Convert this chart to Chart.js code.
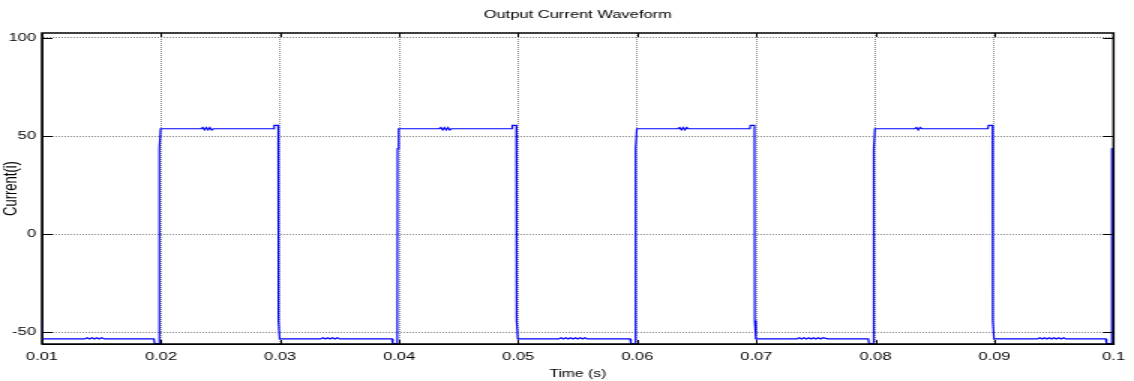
<!DOCTYPE html>
<html>
<head>
<meta charset="utf-8">
<script src="https://cdn.jsdelivr.net/npm/chart.js@4"></script>
<style>
  html, body { margin: 0; padding: 0; background: #ffffff; overflow: hidden; }
  #wrap { width: 756px; height: 381px; transform: scaleX(1.5); transform-origin: 0 0; }
</style>
</head>
<body>
<div id="wrap"><canvas id="c" width="756" height="381"></canvas></div>
<script>
// ---- data ----
const chartTitle = 'Output Current Waveform';
const xAxisLabel = 'Time (s)';
const yAxisLabel = 'Current(i)';

const xTickValues = [0.01, 0.02, 0.03, 0.04, 0.05, 0.06, 0.07, 0.08, 0.09, 0.1];
const xTickLabels = ['0.01', '0.02', '0.03', '0.04', '0.05', '0.06', '0.07', '0.08', '0.09', '0.1'];
const yTickValues = [-50, 0, 50, 100];
const yTickLabels = ['-50', '0', '50', '100'];

// time (s) of each sample
const timeS = [
  // low 0.01 - 0.02
  0.01000, 0.01003, 0.01360, 0.01380, 0.01400, 0.01420, 0.01440, 0.01460, 0.01480, 0.01500, 0.01525, 0.01940, 0.01946, 0.01984,
  // high 0.02 - 0.03
  0.01986, 0.01996, 0.02335, 0.02350, 0.02365, 0.02380, 0.02395, 0.02410, 0.02425, 0.02440, 0.02945, 0.02950, 0.02984, 0.02986, 0.02996,
  // low 0.03 - 0.04
  0.03340, 0.03360, 0.03380, 0.03400, 0.03420, 0.03440, 0.03460, 0.03480, 0.03500, 0.03540, 0.03940, 0.03946, 0.03984,
  // high 0.04 - 0.05
  0.03986, 0.03996, 0.04335, 0.04350, 0.04365, 0.04380, 0.04395, 0.04410, 0.04425, 0.04440, 0.04945, 0.04950, 0.04984, 0.04986, 0.04996,
  // low 0.05 - 0.06
  0.05340, 0.05360, 0.05380, 0.05400, 0.05420, 0.05440, 0.05460, 0.05480, 0.05500, 0.05520, 0.05540, 0.05560, 0.05580, 0.05940, 0.05946, 0.05984,
  // high 0.06 - 0.07
  0.05986, 0.05996, 0.06340, 0.06355, 0.06370, 0.06385, 0.06400, 0.06415, 0.06430, 0.06945, 0.06950, 0.06984, 0.06986, 0.06996,
  // low 0.07 - 0.08
  0.07340, 0.07360, 0.07380, 0.07400, 0.07420, 0.07440, 0.07460, 0.07480, 0.07500, 0.07520, 0.07540, 0.07560, 0.07600, 0.07940, 0.07946, 0.07984,
  // high 0.08 - 0.09
  0.07986, 0.07996, 0.08330, 0.08345, 0.08360, 0.08375, 0.08390, 0.08945, 0.08950, 0.08984, 0.08986, 0.08996,
  // low 0.09 - 0.1
  0.09360, 0.09380, 0.09400, 0.09420, 0.09440, 0.09460, 0.09480, 0.09500, 0.09520, 0.09540, 0.09560, 0.09580, 0.09600, 0.09620, 0.09935, 0.09941, 0.09984, 0.09986, 0.10000
];

// output current (A) at each sample
const currentA = [
  // low 0.01 - 0.02
  -44.0, -53.4, -53.4, -52.8, -53.4, -52.8, -53.4, -52.8, -53.4, -52.8, -53.4, -53.4, -55.8, -55.8,
  // high 0.02 - 0.03
  43.5, 53.7, 53.7, 54.3, 53.1, 54.3, 53.1, 54.3, 53.1, 53.7, 53.7, 55.4, 55.4, -44.0, -53.4,
  // low 0.03 - 0.04
  -53.4, -52.8, -53.4, -52.8, -53.4, -52.8, -53.4, -52.8, -53.4, -53.4, -53.4, -55.8, -55.8,
  // high 0.04 - 0.05
  43.5, 53.7, 53.7, 54.3, 53.1, 54.3, 53.1, 54.3, 53.1, 53.7, 53.7, 55.4, 55.4, -44.0, -53.4,
  // low 0.05 - 0.06
  -53.4, -52.8, -53.4, -52.8, -53.4, -52.8, -53.4, -52.8, -53.4, -52.8, -53.4, -52.8, -53.4, -53.4, -55.8, -55.8,
  // high 0.06 - 0.07
  43.5, 53.7, 53.7, 54.3, 53.1, 54.3, 53.1, 54.3, 53.7, 53.7, 55.4, 55.4, -44.0, -53.4,
  // low 0.07 - 0.08
  -53.4, -52.8, -53.4, -52.8, -53.4, -52.8, -53.4, -52.8, -53.4, -52.8, -53.4, -52.8, -53.4, -53.4, -55.8, -55.8,
  // high 0.08 - 0.09
  43.5, 53.7, 53.7, 54.3, 53.1, 54.3, 53.7, 53.7, 55.4, 55.4, -44.0, -53.4,
  // low 0.09 - 0.1
  -53.4, -52.8, -53.4, -52.8, -53.4, -52.8, -53.4, -52.8, -53.4, -52.8, -53.4, -52.8, -53.4, -53.4, -53.4, -55.8, -55.8, 43.5, 43.5
];

const yMin = -56;
const yMax = 102.5;

// ---- chart ----
const FONT = '"Liberation Sans", Arial, Helvetica, sans-serif';

const frameAndTicks = {
  id: 'frameAndTicks',
  afterDatasetsDraw(chart) {
    const { ctx, chartArea: a, scales } = chart;
    const x = scales.x, y = scales.y;
    ctx.save();
    ctx.strokeStyle = '#000000';
    ctx.lineWidth = 1;
    ctx.beginPath();
    xTickValues.forEach(v => {
      const px = Math.round(x.getPixelForValue(v)) + 0.5;
      ctx.moveTo(px, a.bottom); ctx.lineTo(px, a.bottom - 4);
      ctx.moveTo(px, a.top); ctx.lineTo(px, a.top + 4);
    });
    yTickValues.forEach(v => {
      const py = Math.round(y.getPixelForValue(v)) + 0.5;
      ctx.moveTo(a.left, py); ctx.lineTo(a.left + 7, py);
      ctx.moveTo(a.right, py); ctx.lineTo(a.right - 7, py);
    });
    ctx.stroke();
    ctx.lineWidth = 1.5;
    ctx.strokeRect(a.left, a.top, a.right - a.left, a.bottom - a.top);
    ctx.restore();
  }
};

new Chart(document.getElementById('c'), {
  type: 'scatter',
  data: {
    datasets: [{
      label: 'Current',
      data: timeS.map((t, k) => ({ x: t, y: currentA[k] })),
      showLine: true,
      borderColor: '#0000ff',
      backgroundColor: '#0000ff',
      borderWidth: 1.2,
      pointRadius: 0,
      tension: 0,
      fill: false
    }]
  },
  options: {
    responsive: false,
    animation: false,
    devicePixelRatio: 1,
    layout: { padding: { left: 0, right: 10, top: 0, bottom: 0 } },
    plugins: {
      legend: { display: false },
      tooltip: { enabled: false },
      title: {
        display: true,
        text: chartTitle,
        fullSize: false,
        color: '#000000',
        font: { family: FONT, size: 11, weight: 'normal', lineHeight: 1.2 },
        padding: { top: 8.5, bottom: 11.3 }
      }
    },
    scales: {
      x: {
        type: 'linear',
        min: 0.01,
        max: 0.1,
        afterBuildTicks: s => { s.ticks = xTickValues.map(v => ({ value: v })); },
        afterFit: s => { s.height = 37; },
        ticks: {
          autoSkip: false,
          maxRotation: 0,
          padding: 6,
          color: '#000000',
          font: { family: FONT, size: 11 },
          callback: (v, i) => xTickLabels[i]
        },
        grid: { color: '#8c8c8c', lineWidth: 1, drawTicks: false },
        border: { display: true, color: '#000000', width: 1, dash: [1, 1] },
        title: {
          display: true,
          text: xAxisLabel,
          color: '#000000',
          font: { family: FONT, size: 10.5 },
          padding: { top: 0, bottom: 1 }
        }
      },
      y: {
        type: 'linear',
        min: yMin,
        max: yMax,
        afterBuildTicks: s => { s.ticks = yTickValues.map(v => ({ value: v })); },
        afterFit: s => { s.width = 28; },
        ticks: {
          autoSkip: false,
          padding: 4,
          color: '#000000',
          font: { family: FONT, size: 11 },
          callback: (v, i) => yTickLabels[i]
        },
        grid: { color: '#8c8c8c', lineWidth: 1, drawTicks: false },
        border: { display: true, color: '#000000', width: 1, dash: [1, 1] },
        title: {
          display: true,
          text: yAxisLabel,
          color: '#000000',
          font: { family: FONT, size: 13 },
          padding: { top: 0, bottom: 0 }
        }
      }
    }
  },
  plugins: [frameAndTicks]
});
</script>
</body>
</html>
